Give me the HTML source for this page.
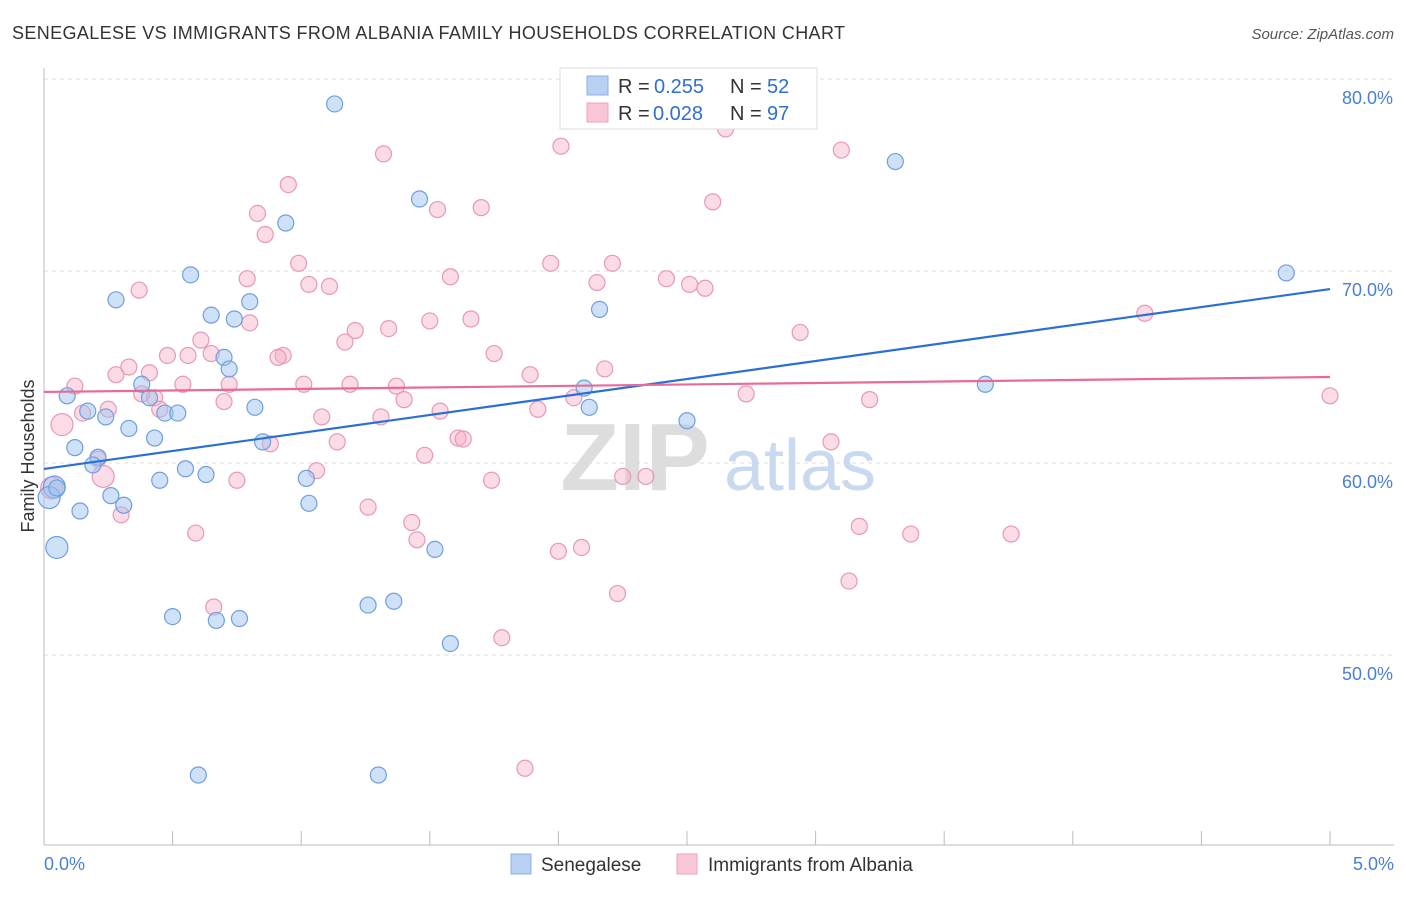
<!DOCTYPE html>
<html><head><meta charset="utf-8"><style>
body{margin:0;background:#fff;font-family:"Liberation Sans",sans-serif;}
svg text{font-family:"Liberation Sans",sans-serif;}
</style></head><body>
<svg id="chart" width="1406" height="892" xmlns="http://www.w3.org/2000/svg">
<text x="12" y="39" font-size="18" fill="#333" textLength="833">SENEGALESE VS IMMIGRANTS FROM ALBANIA FAMILY HOUSEHOLDS CORRELATION CHART</text>
<text x="1394" y="39" font-size="15" fill="#555" text-anchor="end" font-style="italic">Source: ZipAtlas.com</text>
<g id="grid"></g>
<g>
<text x="635" y="490" font-size="96" fill="#ddd" text-anchor="middle" font-family="Liberation Serif" font-weight="bold">ZIP</text>
<text x="800" y="490" font-size="72" fill="#c9d9ef" text-anchor="middle">atlas</text>
</g>
<line x1="44" y1="68" x2="44" y2="845" stroke="#bbb"/>
<line x1="44" y1="845" x2="1394" y2="845" stroke="#bbb"/>
<g id="xticks"></g>
<g id="ylabels"></g>
<text x="44" y="870" font-size="18" fill="#4a7fd4">0.0%</text>
<text x="1394" y="870" font-size="18" fill="#4a7fd4" text-anchor="end">5.0%</text>
<text transform="translate(34,456) rotate(-90)" font-size="18" fill="#333" text-anchor="middle">Family Households</text>
<g id="pinkpts"></g>
<g id="bluepts"></g>
<g id="lines"></g>
<g>
<rect x="560" y="68" width="257" height="61" fill="#fff" stroke="#ddd"/>
<rect x="587" y="76" width="21" height="19" fill="#b8d1f3" stroke="#8ab0e6"/>
<rect x="587" y="103" width="21" height="19" fill="#f9c6d6" stroke="#eda2bb"/>
<text x="618" y="93" font-size="20" fill="#333">R = <tspan x="654" fill="#2f6fd0">0.255</tspan><tspan x="730">N = </tspan><tspan x="767" fill="#2f6fd0">52</tspan></text>
<text x="618" y="120" font-size="20" fill="#333">R = <tspan x="653" fill="#2f6fd0">0.028</tspan><tspan x="730">N = </tspan><tspan x="767" fill="#2f6fd0">97</tspan></text>
</g>
<g>
<rect x="511" y="854" width="20" height="20" fill="#b8d1f3" stroke="#8ab0e6"/>
<text x="541" y="871" font-size="19" fill="#333">Senegalese</text>
<rect x="677" y="854" width="20" height="20" fill="#f9c6d6" stroke="#eda2bb"/>
<text x="708" y="871" font-size="19" fill="#333">Immigrants from Albania</text>
</g>
</svg>
<script>
const blueX=[1.13,1.46,0.94,3.31,4.83,0.57,0.28,0.80,0.65,0.74,2.16,0.70,0.72,0.09,0.38,0.41,0.17,0.24,0.47,0.52,0.82,0.33,0.43,0.85,0.12,0.21,0.19,0.55,0.63,0.45,1.02,0.04,0.02,0.26,0.31,0.14,1.03,0.05,1.52,2.10,2.12,2.50,3.66,0.50,0.67,0.76,1.26,1.36,1.58,0.60,1.30,0.05];
const blueY=[78.7,73.75,72.5,75.7,69.9,69.8,68.5,68.4,67.7,67.5,68.0,65.5,64.9,63.5,64.1,63.4,62.7,62.4,62.6,62.6,62.9,61.8,61.3,61.1,60.8,60.3,59.9,59.7,59.4,59.1,59.2,58.75,58.2,58.3,57.8,57.5,57.9,55.6,55.5,63.9,62.9,62.2,64.1,52.0,51.8,51.9,52.6,52.8,50.6,43.75,43.75,58.7];
const blueBig=[31,32,37];
const pinkX=[2.65,1.32,2.01,3.10,0.95,0.83,1.53,1.70,2.60,0.86,0.99,1.97,2.21,1.58,0.79,1.03,1.11,2.15,2.42,2.51,2.57,0.37,0.80,1.21,1.34,1.50,1.66,2.94,4.28,0.61,0.48,0.56,0.65,0.93,0.91,1.17,1.75,2.18,1.89,0.28,0.33,0.41,0.12,0.54,0.72,1.01,1.19,1.37,0.38,0.43,0.70,1.40,1.54,1.92,2.06,2.73,3.21,5.00,0.25,0.15,0.07,1.08,1.31,1.14,0.88,1.61,1.63,3.06,0.21,0.23,0.75,1.06,1.48,1.74,2.25,2.34,0.30,1.26,1.43,1.45,2.00,2.09,3.17,3.37,3.76,0.59,3.13,2.23,0.66,1.78,1.87,0.03,0.45];
const pinkY=[77.4,76.1,76.5,76.3,74.5,73.0,73.2,73.3,73.6,71.9,70.4,70.4,70.4,69.7,69.6,69.3,69.2,69.4,69.6,69.3,69.1,69.0,67.3,66.9,67.0,67.4,67.5,66.8,67.8,66.4,65.6,65.6,65.7,65.6,65.5,66.3,65.7,64.9,64.6,64.6,65.0,64.7,64.0,64.1,64.1,64.1,64.1,64.0,63.6,63.4,63.2,63.3,62.7,62.8,63.4,63.6,63.3,63.5,62.8,62.6,62.0,62.4,62.4,61.1,61.0,61.3,61.25,61.1,60.2,59.3,59.1,59.6,60.4,59.1,59.3,59.3,57.3,57.7,56.9,56.0,55.4,55.6,56.7,56.3,56.3,56.35,53.85,53.2,52.5,50.9,44.1,58.7,62.8];
const pinkBig=[60,69,91];
const yTicks=[50,60,70,80];
const blueTrend=[59.69,69.06];
const pinkTrend=[63.70,64.48];
const NS="http://www.w3.org/2000/svg";
const sx=v=>44+v/5*1286;
const sy=v=>463-(v-60)*19.2;
function mk(tag,parent,attrs){const e=document.createElementNS(NS,tag);for(const k in attrs)e.setAttribute(k,attrs[k]);parent.appendChild(e);return e;}
const grid=document.getElementById('grid'),yl=document.getElementById('ylabels');
yTicks.forEach(t=>{
 const l=mk('line',grid,{x1:44,x2:1394,y1:sy(t),y2:sy(t),stroke:'#ddd','stroke-dasharray':'4,4'});
 
 
 const tx=mk('text',yl,{x:1393,y:sy(t)+25,'font-size':18,fill:'#4a7fd4','text-anchor':'end'});
 tx.textContent=t.toFixed(1)+'%';
 
 
});
const xt=document.getElementById('xticks');
for(let i=0;i<=10;i++){const l=mk('line',xt,{x1:sx(i*0.5),x2:sx(i*0.5),y1:831,y2:845,stroke:'#bbb'});
 
 }
function pts(X,Y,big,g,fill,stroke,name){X.forEach((x,i)=>{const c=mk('circle',g,{cx:sx(x),cy:sy(Y[i]),r:big.includes(i)?11:8,fill:fill,stroke:stroke,'stroke-width':1.2});
 
 });}
pts(pinkX,pinkY,pinkBig,document.getElementById('pinkpts'),'rgba(245,175,200,0.45)','#e898b5','albania-point');
pts(blueX,blueY,blueBig,document.getElementById('bluepts'),'rgba(160,196,240,0.5)','#6e9fdf','senegalese-point');
const lg=document.getElementById('lines');
const bl=mk('line',lg,{x1:sx(0),y1:sy(blueTrend[0]),x2:sx(5),y2:sy(blueTrend[1]),stroke:'#2a6fd6','stroke-width':2.2});


const pl=mk('line',lg,{x1:sx(0),y1:sy(pinkTrend[0]),x2:sx(5),y2:sy(pinkTrend[1]),stroke:'#e86a98','stroke-width':2.2});


</script>
</body></html>
